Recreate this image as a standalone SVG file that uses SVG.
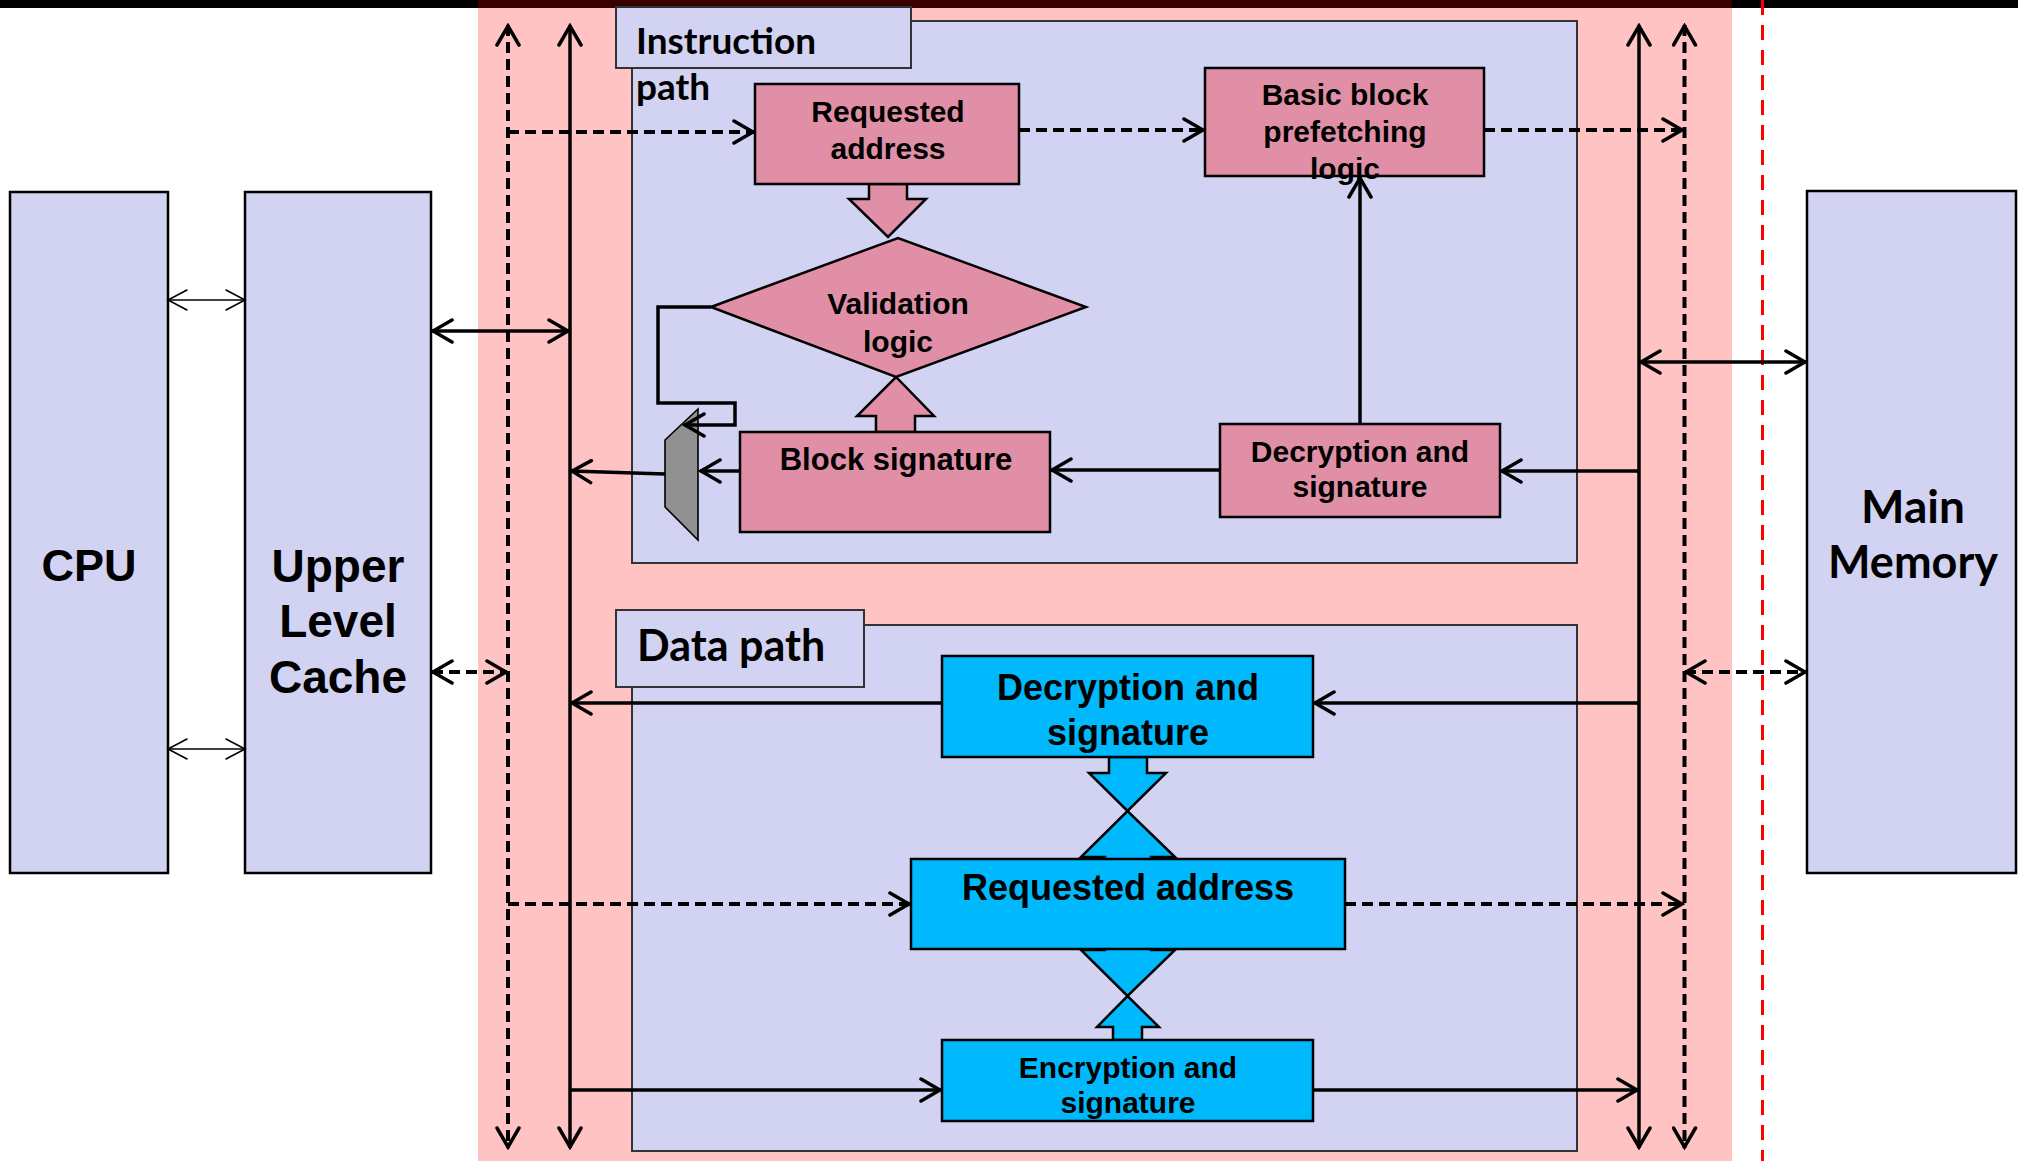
<svg xmlns="http://www.w3.org/2000/svg" width="2018" height="1161" viewBox="0 0 2018 1161">
<style>
.cal{font-family:Lato,"Liberation Sans",sans-serif;font-weight:bold;fill:#000}
.ar{font-family:"Liberation Sans",Arial,sans-serif;font-weight:bold;fill:#000;text-anchor:middle}
.big{font-size:46px;text-anchor:middle}
.lav{fill:#D2D2F2;stroke:#000;stroke-width:2.5}
.outer{fill:#D2D2F2;stroke:#333;stroke-width:2}
.pk{fill:#E08FA7;stroke:#000;stroke-width:2.5}
.bl{fill:#00B9FC;stroke:#000;stroke-width:2.5}
.ln{fill:none;stroke:#000;stroke-width:3.5}
.dash{stroke-dasharray:11 6;stroke-width:4}
.thin{fill:none;stroke:#000;stroke-width:1.6}
</style>
<defs>
<marker id="ah" viewBox="-24 -13 26 26" refX="0" refY="0" markerWidth="26" markerHeight="26" markerUnits="userSpaceOnUse" orient="auto-start-reverse">
<path d="M-20,-11 L-1,0 L-20,11" fill="none" stroke="#000" stroke-width="3.5" stroke-linecap="round"/>
</marker>
<marker id="aht" viewBox="-24 -13 26 26" refX="0" refY="0" markerWidth="26" markerHeight="26" markerUnits="userSpaceOnUse" orient="auto-start-reverse">
<path d="M-19,-10 L0,0 L-19,10" fill="none" stroke="#000" stroke-width="1.6" stroke-linecap="round"/>
</marker>
</defs>
<rect width="2018" height="1161" fill="#fff"/>
<rect x="478" y="0" width="1254" height="1161" fill="#FFC3C3"/>
<rect x="0" y="0" width="2018" height="8" fill="#000"/>
<rect x="478" y="0" width="1254" height="8" fill="#3A0000"/>
<line x1="1762.5" y1="0" x2="1762.5" y2="1161" stroke="#FF0000" stroke-width="3" stroke-dasharray="15 10"/>

<g id="cpu"><rect class="lav" x="10" y="192" width="158" height="681"/><text class="ar" x="89" y="581" font-size="45">CPU</text></g>
<g id="cache"><rect class="lav" x="245" y="192" width="186" height="681"/><text class="ar" x="338" y="582" font-size="46">Upper</text><text class="ar" x="338" y="637" font-size="46">Level</text><text class="ar" x="338" y="693" font-size="46">Cache</text></g>
<g id="main-memory"><rect class="lav" x="1807" y="191" width="209" height="682"/><text class="cal big" x="1913" y="523" font-size="45">Main</text><text class="cal big" x="1913" y="578" style="font-size:45px">Memory</text></g>

<g id="instruction-path">
<rect class="outer" x="632" y="21" width="945" height="542"/>
<rect class="outer" x="616" y="7" width="295" height="61"/>
<text class="cal" x="636" y="54" font-size="37">Instruction</text>
<text class="cal" x="636" y="100" font-size="37">path</text>
</g>
<g id="data-path">
<rect class="outer" x="632" y="625" width="945" height="526"/>
<rect class="outer" x="616" y="610" width="248" height="77"/>
<text class="cal" x="637" y="661" font-size="43">Data path</text>
</g>

<g id="block-arrows">
<polygon class="pk" points="869,184 907,184 907,199 926,199 888,237 849,199 869,199"/>
<polygon class="pk" points="876,432 876,416 857,416 896,377 934,416 915,416 915,432"/>
<polygon class="bl" points="1109,757 1147,757 1147,773 1166,773 1127.5,811 1089,773 1109,773"/>
<polygon class="bl" points="1105,861 1105,857 1081,857 1127.5,811 1175,857 1151,857 1151,861"/>
<polygon class="bl" points="1105,947 1105,950 1081,950 1127.5,996 1175,950 1151,950 1151,947"/>
<polygon class="bl" points="1113,1040 1113,1027 1097,1027 1127.5,996 1159,1027 1142,1027 1142,1040"/>
</g>

<g id="requested-address-i"><rect class="pk" x="755" y="84" width="264" height="100"/><text class="ar" x="888" y="122" font-size="30">Requested</text><text class="ar" x="888" y="159" font-size="30">address</text></g>
<g id="basic-block"><rect class="pk" x="1205" y="68" width="279" height="108"/><text class="ar" x="1345" y="105" font-size="30">Basic block</text><text class="ar" x="1345" y="142" font-size="30">prefetching</text><text class="ar" x="1345" y="179" font-size="30">logic</text></g>
<g id="validation"><polygon class="pk" points="711,307 898,238 1086,307 896,377"/><text class="ar" x="898" y="314" font-size="30">Validation</text><text class="ar" x="898" y="352" font-size="30">logic</text></g>
<g id="block-signature"><rect class="pk" x="740" y="432" width="310" height="100"/><text class="ar" x="896" y="470" font-size="31">Block signature</text></g>
<g id="decryption-i"><rect class="pk" x="1220" y="424" width="280" height="93"/><text class="ar" x="1360" y="462" font-size="30">Decryption and</text><text class="ar" x="1360" y="497" font-size="30">signature</text></g>
<g id="mux"><polygon points="665,440 698,409 698,540 665,507" fill="#919191" stroke="#000" stroke-width="1.6"/></g>

<g id="decryption-d"><rect class="bl" x="942" y="656" width="371" height="101"/><text class="ar" x="1128" y="700" font-size="36">Decryption and</text><text class="ar" x="1128" y="745" font-size="36">signature</text></g>
<g id="requested-address-d"><rect class="bl" x="911" y="859" width="434" height="90"/><text class="ar" x="1128" y="900" font-size="36">Requested address</text></g>
<g id="encryption"><rect class="bl" x="942" y="1040" width="371" height="81"/><text class="ar" x="1128" y="1078" font-size="30">Encryption and</text><text class="ar" x="1128" y="1113" font-size="30">signature</text></g>

<g id="connectors">
<line class="ln" x1="570" y1="25" x2="570" y2="1148" marker-start="url(#ah)" marker-end="url(#ah)"/>
<line class="ln dash" x1="508" y1="25" x2="508" y2="1148" marker-start="url(#ah)" marker-end="url(#ah)"/>
<line class="ln" x1="1639" y1="25" x2="1639" y2="1148" marker-start="url(#ah)" marker-end="url(#ah)"/>
<line class="ln dash" x1="1684.5" y1="25" x2="1684.5" y2="1148" marker-start="url(#ah)" marker-end="url(#ah)"/>
<line class="thin" x1="168" y1="300" x2="245" y2="300" marker-start="url(#aht)" marker-end="url(#aht)"/>
<line class="thin" x1="168" y1="749" x2="245" y2="749" marker-start="url(#aht)" marker-end="url(#aht)"/>
<line class="ln" x1="432" y1="331" x2="569" y2="331" marker-start="url(#ah)" marker-end="url(#ah)"/>
<line class="ln dash" x1="432" y1="672" x2="507" y2="672" marker-start="url(#ah)" marker-end="url(#ah)"/>
<line class="ln" x1="1640" y1="362" x2="1806" y2="362" marker-start="url(#ah)" marker-end="url(#ah)"/>
<line class="ln dash" x1="1685" y1="672" x2="1806" y2="672" marker-start="url(#ah)" marker-end="url(#ah)"/>
<polyline class="ln dash" points="508,132 754,132" marker-end="url(#ah)"/>
<line class="ln dash" x1="1019" y1="130" x2="1204" y2="130" marker-end="url(#ah)"/>
<line class="ln dash" x1="1484" y1="130" x2="1683" y2="130" marker-end="url(#ah)"/>
<line class="ln" x1="1360" y1="424" x2="1360" y2="177" marker-end="url(#ah)"/>
<line class="ln" x1="1639" y1="471" x2="1501" y2="471" marker-end="url(#ah)"/>
<line class="ln" x1="1220" y1="470" x2="1051" y2="470" marker-end="url(#ah)"/>
<line class="ln" x1="740" y1="471" x2="700" y2="471" marker-end="url(#ah)"/>
<line class="ln" x1="665" y1="474" x2="571" y2="471" marker-end="url(#ah)"/>
<polyline class="ln" points="711,307 658,307 658,403 735,403 735,425 684,425" marker-end="url(#ah)"/>
<line class="ln" x1="942" y1="703" x2="571" y2="703" marker-end="url(#ah)"/>
<line class="ln" x1="1639" y1="703" x2="1314" y2="703" marker-end="url(#ah)"/>
<line class="ln dash" x1="508" y1="904" x2="910" y2="904" marker-end="url(#ah)"/>
<line class="ln dash" x1="1345" y1="904" x2="1683" y2="904" marker-end="url(#ah)"/>
<line class="ln" x1="570" y1="1090" x2="941" y2="1090" marker-end="url(#ah)"/>
<line class="ln" x1="1313" y1="1090" x2="1638" y2="1090" marker-end="url(#ah)"/>
</g>
</svg>
